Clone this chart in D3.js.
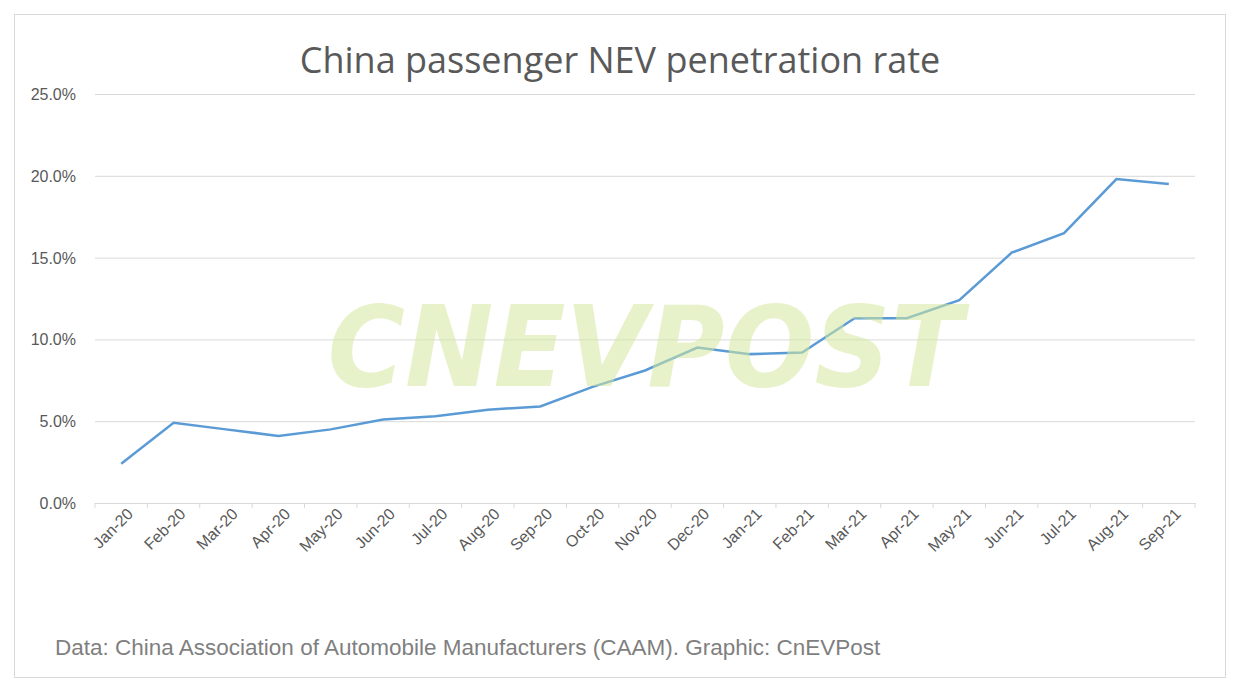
<!DOCTYPE html>
<html><head><meta charset="utf-8">
<script src="https://cdn.jsdelivr.net/npm/d3@7"></script>
<style>body{margin:0;background:#fff}</style>
</head><body><div id="vis"></div>
<script>
const months = ["Jan-20","Feb-20","Mar-20","Apr-20","May-20","Jun-20","Jul-20","Aug-20","Sep-20","Oct-20","Nov-20","Dec-20","Jan-21","Feb-21","Mar-21","Apr-21","May-21","Jun-21","Jul-21","Aug-21","Sep-21"];
const rates = [2.4,4.9,4.5,4.1,4.5,5.1,5.3,5.7,5.9,7.1,8.1,9.5,9.1,9.2,11.3,11.3,12.4,15.3,16.5,19.8,19.5];
const yTicks = [0,5,10,15,20,25];

const W = 1240, H = 692;
const M = {left: 95, right: 45, top: 94, bottom: 189};

const svg = d3.select("#vis").append("svg").attr("width", W).attr("height", H);
svg.append("rect").attr("x",14.5).attr("y",14.5).attr("width",1211).attr("height",663)
  .attr("fill","#fff").attr("stroke","#d9d9d9");

const x = d3.scaleBand().domain(months).range([M.left, W - M.right]);
const y = d3.scaleLinear().domain([0,25]).range([H - M.bottom, M.top]);

// grid
svg.append("g").selectAll("line").data(yTicks).join("line")
  .attr("x1", M.left).attr("x2", W - M.right)
  .attr("y1", d => y(d) + 0.5).attr("y2", d => y(d) + 0.5)
  .attr("stroke", "#d9d9d9");

svg.append("g").selectAll("text").data(yTicks).join("text")
  .attr("x", 76).attr("y", d => y(d) + 6).attr("text-anchor","end")
  .attr("font-family","Liberation Sans, Arial").attr("font-size",16).attr("fill","#595959")
  .text(d => d.toFixed(1) + "%");

// x ticks
const xa = svg.append("g").attr("transform", `translate(0,${y(0)})`)
  .call(d3.axisBottom(x).tickSize(5).tickSizeOuter(0).tickValues(months));
xa.select(".domain").attr("stroke","#d9d9d9");
xa.selectAll(".tick line").attr("stroke","#d9d9d9")
  .attr("transform", d => `translate(${-x.bandwidth()/2},0)`);
xa.selectAll(".tick text")
  .attr("font-family","Liberation Sans, Arial").attr("font-size",16).attr("fill","#595959")
  .attr("text-anchor","end").attr("transform","translate(9,8) rotate(-45)").attr("dy","0.35em").attr("y",0).attr("x",0);
svg.append("line").attr("x1",W - M.right).attr("x2",W - M.right).attr("y1",y(0)).attr("y2",y(0)+5).attr("stroke","#d9d9d9");

// line
svg.append("path").datum(rates)
  .attr("fill","none").attr("stroke","#5b9bd5").attr("stroke-width",2.5)
  .attr("d", d3.line().x((d,i) => x(months[i]) + x.bandwidth()/2).y(d => y(d)));

// watermark
svg.append("text").attr("x", 645).attr("y", 386).attr("text-anchor","middle")
  .attr("font-family","DejaVu Sans").attr("font-weight","bold").attr("font-style","italic")
  .attr("font-size",112).attr("fill","#d4e9a0").attr("opacity",0.55).attr("textLength",635).attr("lengthAdjust","spacingAndGlyphs")
  .text("CNEVPOST");

svg.append("text").attr("x", 620).attr("y", 73).attr("text-anchor","middle")
  .attr("font-family","Open Sans, Noto Sans").attr("font-size",36).attr("fill","#595959")
  .text("China passenger NEV penetration rate");

svg.append("text").attr("x", 55).attr("y", 655)
  .attr("font-family","Liberation Sans, Arial").attr("font-size",22.5).attr("fill","#7f7f7f")
  .text("Data: China Association of Automobile Manufacturers (CAAM). Graphic: CnEVPost");
</script></body></html>
